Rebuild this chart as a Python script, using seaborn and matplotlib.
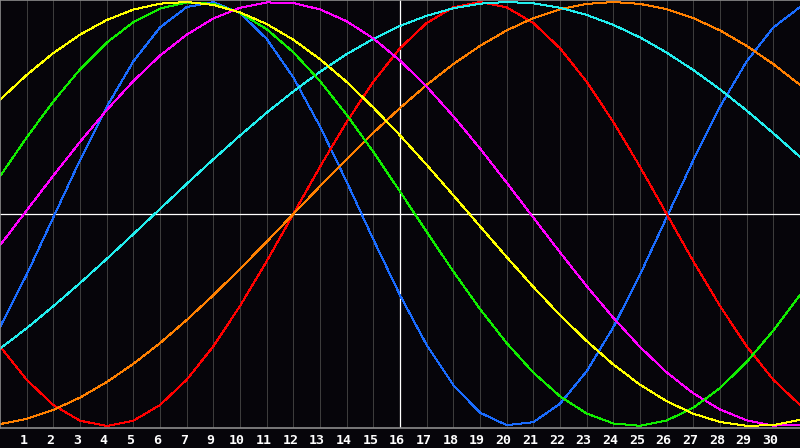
import pandas as pd
import matplotlib
matplotlib.use('Agg')
import matplotlib.pyplot as plt
import matplotlib.transforms as mtransforms
import seaborn as sns

# days shown on the chart (0 = left edge), today is the white vertical line
days = list(range(31))
today = 15
tick_days = list(range(1, 30))
tick_labels = [str(n) for n in list(range(1, 8)) + list(range(9, 31))]

# cycle values, one per day
physical = [-0.533, -0.286, -0.016, 0.254, 0.505, 0.720, 0.880, 0.976, 0.999, 0.948,
            0.826, 0.644, 0.413, 0.152, -0.120, -0.383, -0.618, -0.807, -0.937, -0.996,
            -0.982, -0.895, -0.742, -0.534, -0.286, -0.016, 0.254, 0.506, 0.720, 0.880, 0.976]
emotional = [-0.624, -0.782, -0.901, -0.975, -1.0, -0.975, -0.901, -0.782, -0.624, -0.434,
             -0.223, 0.0, 0.223, 0.434, 0.624, 0.782, 0.901, 0.975, 1.0, 0.975,
             0.901, 0.782, 0.624, 0.434, 0.223, 0.0, -0.223, -0.434, -0.624, -0.782, -0.901]
intellectual = [0.178, 0.361, 0.531, 0.682, 0.808, 0.905, 0.969, 0.998, 0.991, 0.949,
                0.872, 0.763, 0.627, 0.468, 0.293, 0.106, -0.084, -0.271, -0.448, -0.609,
                -0.748, -0.860, -0.941, -0.988, -0.999, -0.974, -0.914, -0.821, -0.698, -0.550, -0.382]
intuitive = [-0.148, 0.017, 0.181, 0.340, 0.490, 0.627, 0.747, 0.846, 0.922, 0.973,
             0.998, 0.995, 0.965, 0.909, 0.828, 0.724, 0.601, 0.461, 0.309, 0.148,
             -0.017, -0.181, -0.340, -0.490, -0.627, -0.747, -0.846, -0.922, -0.973, -0.998, -0.995]
aesthetic = [0.539, 0.656, 0.759, 0.846, 0.915, 0.964, 0.992, 1.000, 0.986, 0.951,
             0.896, 0.822, 0.730, 0.623, 0.502, 0.371, 0.232, 0.088, -0.058, -0.203,
             -0.344, -0.477, -0.599, -0.710, -0.805, -0.883, -0.942, -0.981, -0.999, -0.996, -0.971]
awareness = [-0.991, -0.966, -0.924, -0.866, -0.793, -0.707, -0.609, -0.500, -0.383, -0.259,
             -0.131, 0.0, 0.131, 0.259, 0.383, 0.500, 0.609, 0.707, 0.793, 0.866,
             0.924, 0.966, 0.991, 1.0, 0.991, 0.966, 0.924, 0.866, 0.793, 0.707, 0.609]
spiritual = [-0.635, -0.539, -0.435, -0.326, -0.212, -0.095, 0.024, 0.142, 0.258, 0.370,
             0.478, 0.578, 0.671, 0.754, 0.826, 0.887, 0.935, 0.971, 0.992, 1.000,
             0.994, 0.973, 0.939, 0.892, 0.833, 0.761, 0.679, 0.588, 0.488, 0.381, 0.269]

cycles = ['physical', 'emotional', 'awareness', 'spiritual', 'intuitive', 'intellectual', 'aesthetic']
series = [physical, emotional, awareness, spiritual, intuitive, intellectual, aesthetic]
colors = ['#1a6cff', '#ff0000', '#ff8000', '#22eeee', '#ff00ff', '#11ee00', '#ffff00']

df = pd.DataFrame({
    'day': days * len(cycles),
    'value': [v for s in series for v in s],
    'cycle': [c for c in cycles for _ in days],
})

bg = '#06050a'
sns.set_theme(style='dark', rc={'axes.facecolor': bg, 'figure.facecolor': bg})

fig = plt.figure(figsize=(8, 4.48), dpi=100)
ax = fig.add_axes([0.0, 20 / 448, 1.0, 428 / 448])
ax.set_facecolor(bg)

ax.set_xticks(tick_days)
ax.set_xticklabels(tick_labels)
ax.xaxis.grid(True, color='#3c3c3c', linewidth=0.72)
ax.yaxis.grid(False)
ax.set_axisbelow(True)

ax.axhline(0, color='white', linewidth=0.9, zorder=1.5)
ax.axvline(today, color='white', linewidth=0.9, zorder=1.5)

sns.lineplot(data=df, x='day', y='value', hue='cycle', hue_order=cycles,
             palette=colors, legend=False, linewidth=0.72, estimator=None,
             sort=False, antialiased=False, ax=ax, zorder=2)

ax.set_xlim(0, 30)
ax.set_ylim(-1.0094, 1.0094)
ax.set_yticks([])
ax.set_xlabel('')
ax.set_ylabel('')

for side in ['left', 'bottom', 'top']:
    ax.spines[side].set_color('#8c8c8c')
    ax.spines[side].set_linewidth(1.2)
ax.spines['right'].set_visible(False)

ax.tick_params(axis='x', length=0, colors='white', labelsize=9.5, pad=4)
shift = mtransforms.ScaledTranslation(-3 / 100, 0, fig.dpi_scale_trans)
for lab in ax.get_xticklabels():
    lab.set_fontfamily('DejaVu Sans Mono')
    lab.set_fontweight('bold')
    lab.set_transform(lab.get_transform() + shift)

fig.savefig('out.png', dpi=100, facecolor=bg)
